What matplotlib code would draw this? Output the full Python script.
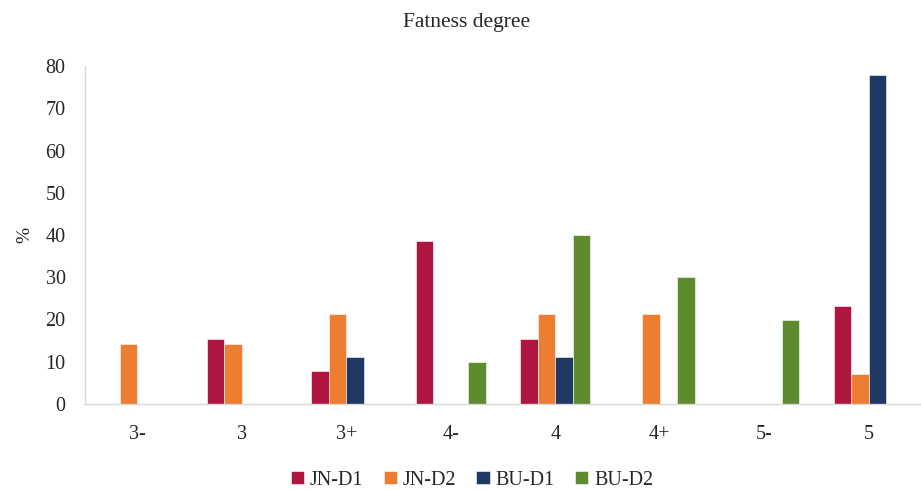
import matplotlib
matplotlib.use("Agg")
import matplotlib.pyplot as plt
import numpy as np

categories = ["3-", "3", "3+", "4-", "4", "4+", "5-", "5"]
series_names = ["JN-D1", "JN-D2", "BU-D1", "BU-D2"]
jn_d1 = [0, 15.4, 7.7, 38.5, 15.4, 0, 0, 23.1]
jn_d2 = [14.3, 14.3, 21.4, 0, 21.4, 21.4, 0, 7.1]
bu_d1 = [0, 0, 11.1, 0, 11.1, 0, 0, 77.8]
bu_d2 = [0, 0, 0, 10, 40, 30, 20, 0]
colors = ["#AE1640", "#ED7D31", "#203864", "#5F8B2F"]

plt.rcParams["font.family"] = ["Liberation Serif", "DejaVu Serif"]

fig = plt.figure(figsize=(9.21, 4.90), dpi=100)
ax = fig.add_axes([85 / 921, 1 - 404 / 490, 836 / 921, (404 - 66) / 490])

x = np.arange(len(categories))
w = 0.167
for i, (name, vals, c) in enumerate(zip(series_names, [jn_d1, jn_d2, bu_d1, bu_d2], colors)):
    ax.bar(x + (i - 1.5) * w, vals, width=w, color=c, label=name,
           edgecolor="white", linewidth=0.4)

ax.set_xlim(-0.5, len(categories) - 0.5)
ax.set_ylim(0, 80)
ax.set_yticks(range(0, 81, 10))
ax.set_xticks(x)
ax.set_xticklabels(categories)
ax.tick_params(axis="both", length=0, labelsize=14.5, colors="#262626")
ax.tick_params(axis="y", pad=14)
ax.tick_params(axis="x", pad=15)
for s in ("top", "right"):
    ax.spines[s].set_visible(False)
for s in ("left", "bottom"):
    ax.spines[s].set_color("#d9d9d9")
    ax.spines[s].set_linewidth(1.0)

fig.text(25 / 921, 1 - 235 / 490, "%", rotation=90, ha="center", va="center",
         fontsize=14, color="#262626")
fig.text(467 / 921, 1 - 22 / 490, "Fatness degree", ha="center", va="center",
         fontsize=15.5, color="#262626")

fig.legend(loc="center", bbox_to_anchor=(472 / 921, 1 - 480 / 490), ncol=4,
           frameon=False, fontsize=14.5, handlelength=0.65, handleheight=0.65,
           columnspacing=1.0, handletextpad=0.3, labelcolor="#262626")

fig.savefig("out.png", dpi=100, facecolor="white")
